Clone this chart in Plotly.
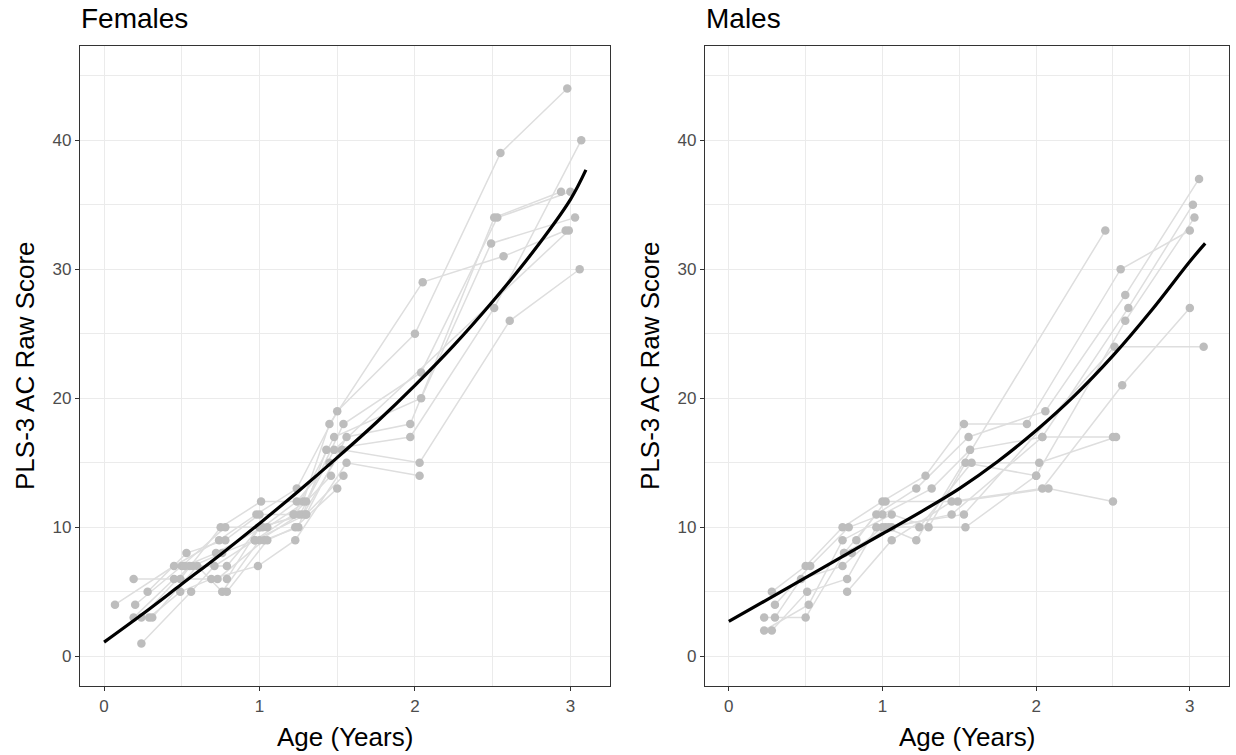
import plotly.graph_objects as go

# ---------------- data ----------------
# Females: one list per child (age in years, PLS-3 AC raw score)
female_ages = [
    [0.07, 0.45, 0.74, 0.98, 1.24, 1.50, 2.00, 2.55, 2.98],
    [0.19, 0.49, 0.75, 1.01, 1.28, 1.45, 2.05, 2.57, 2.97],
    [0.20, 0.50, 0.78, 1.05, 1.30, 1.54, 2.04, 2.53, 3.00],
    [0.28, 0.53, 0.78, 1.00, 1.22, 1.48, 2.04, 2.49, 3.03],
    [0.24, 0.56, 0.71, 0.97, 1.30, 1.56, 1.97, 2.51, 2.94],
    [0.19, 0.45, 0.73, 1.03, 1.25, 1.43, 1.97, 2.51, 3.07],
    [0.24, 0.55, 0.79, 1.00, 1.28, 1.53, 2.03, 2.61, 3.06],
    [0.29, 0.49, 0.69, 0.99, 1.23, 1.56, 2.03],
    [0.31, 0.60, 0.76, 1.00, 1.26, 1.48, 2.99],
    [0.52, 0.72, 1.02, 1.24, 1.45],
    [0.57, 0.76, 0.97, 1.22, 1.46],
    [0.79, 1.00, 1.30, 1.54],
    [0.79, 1.05, 1.23, 1.50],
]
female_scores = [
    [4, 7, 9, 11, 13, 19, 25, 39, 44],
    [6, 6, 10, 12, 12, 18, 29, 31, 33],
    [4, 7, 10, 10, 12, 18, 22, 34, 36],
    [5, 8, 9, 11, 11, 17, 20, 32, 34],
    [1, 5, 7, 9, 11, 17, 18, 34, 36],
    [3, 6, 6, 9, 10, 16, 17, 27, 40],
    [3, 7, 7, 10, 11, 16, 15, 26, 30],
    [3, 5, 6, 7, 9, 15, 14],
    [3, 7, 5, 9, 11, 16, 33],
    [7, 8, 10, 12, 15],
    [7, 8, 9, 11, 14],
    [6, 10, 11, 14],
    [5, 9, 10, 13],
]

# Males
male_ages = [
    [0.28, 0.50, 0.74, 1.00, 1.28, 1.53, 1.94, 2.55, 3.00],
    [0.23, 0.50, 0.75, 0.96, 1.22, 1.56, 2.06, 2.58, 3.06],
    [0.30, 0.53, 0.78, 1.00, 1.32, 1.57, 2.04, 2.60, 3.02],
    [0.23, 0.52, 0.74, 1.06, 1.30, 1.54, 2.00, 2.58, 3.03],
    [0.28, 0.51, 0.77, 0.96, 1.24, 1.58, 2.02, 2.52],
    [0.30, 0.47, 0.74, 1.02, 1.22, 2.45],
    [0.77, 1.06, 1.45, 2.04, 2.56, 3.00],
    [0.83, 1.02, 1.49, 2.08, 2.50],
    [0.75, 1.06, 1.45, 2.04, 2.50],
    [0.80, 1.00, 1.53, 2.51, 3.09],
    [1.04, 1.54, 2.00],
]
male_scores = [
    [5, 7, 10, 12, 14, 18, 18, 30, 33],
    [3, 3, 8, 11, 13, 17, 19, 28, 37],
    [4, 7, 10, 11, 13, 16, 17, 27, 35],
    [2, 4, 9, 11, 10, 15, 14, 26, 34],
    [2, 5, 6, 10, 10, 15, 15, 17],
    [3, 6, 7, 10, 9, 33],
    [5, 9, 12, 13, 21, 27],
    [9, 12, 12, 13, 12],
    [8, 10, 11, 17, 17],
    [8, 10, 11, 24, 24],
    [10, 10, 14],
]

# Fitted growth curves
curve_ages = [0, 0.25, 0.5, 0.75, 1.0, 1.25, 1.5, 1.75, 2.0, 2.25, 2.5, 2.75, 3.0, 3.1]
female_curve = [1.1, 3.3, 5.6, 7.9, 10.3, 12.8, 15.4, 18.1, 21.0, 24.1, 27.5, 31.2, 35.4, 37.7]
male_curve = [2.7, 4.4, 6.1, 7.8, 9.5, 11.2, 13.0, 15.1, 17.5, 20.2, 23.3, 26.8, 30.6, 32.0]

panel_titles = ["Females", "Males"]
x_ticks = [0, 1, 2, 3]
y_ticks = [0, 10, 20, 30, 40]

# ---------------- figure ----------------
W, H = 1236, 755
FONT = "Liberation Sans, Arial, sans-serif"
LINE_COL = "#dedede"
PT_COL = "#bdbdbd"
X_RANGE = [-0.155, 3.255]
Y_RANGE = [-2.3, 47.3]

fig = go.Figure()

panels = [
    (female_ages, female_scores, female_curve, "x", "y"),
    (male_ages, male_scores, male_curve, "x2", "y2"),
]

for ages, scores, curve, xa, ya in panels:
    lx, ly = [], []
    for a, s in zip(ages, scores):
        lx += list(a) + [None]
        ly += list(s) + [None]
    fig.add_trace(go.Scatter(x=lx, y=ly, mode="lines",
                             line=dict(color=LINE_COL, width=1.5),
                             xaxis=xa, yaxis=ya, showlegend=False,
                             hoverinfo="skip"))
    px = [v for a in ages for v in a]
    py = [v for s in scores for v in s]
    fig.add_trace(go.Scatter(x=px, y=py, mode="markers",
                             marker=dict(color=PT_COL, size=8.5, line=dict(width=0)),
                             xaxis=xa, yaxis=ya, showlegend=False))
    fig.add_trace(go.Scatter(x=curve_ages, y=curve, mode="lines",
                             line=dict(color="black", width=3.2, shape="spline"),
                             xaxis=xa, yaxis=ya, showlegend=False))

def px_to_dom(x0, x1):
    return [x0 / W, x1 / W]

def py_to_dom(top, bottom):
    return [1 - bottom / H, 1 - top / H]

xdoms = [px_to_dom(80, 610), px_to_dom(705, 1229)]
ydom = py_to_dom(46, 686)

axis_common = dict(
    showline=True, mirror=True, linecolor="#333333", linewidth=1.2,
    ticks="outside", ticklen=4, tickwidth=1.2, tickcolor="#333333",
    showgrid=True, gridcolor="#ebebeb", gridwidth=1.2,
    zeroline=False,
    tickfont=dict(family=FONT, size=17, color="#4d4d4d"),
)

layout = dict(
    width=W, height=H,
    margin=dict(l=0, r=0, t=0, b=0),
    paper_bgcolor="white", plot_bgcolor="white",
    showlegend=False,
)
for i, (xn, yn) in enumerate([("xaxis", "yaxis"), ("xaxis2", "yaxis2")]):
    layout[xn] = dict(axis_common, domain=xdoms[i], range=X_RANGE,
                      tickvals=x_ticks, ticktext=[str(t) for t in x_ticks],
                      minor=dict(tickvals=[0.5, 1.5, 2.5], showgrid=True,
                                 gridcolor="#ebebeb", gridwidth=0.7, ticks=""),
                      anchor="y" if i == 0 else "y2")
    layout[yn] = dict(axis_common, domain=ydom, range=Y_RANGE,
                      tickvals=y_ticks, ticktext=[str(t) for t in y_ticks],
                      minor=dict(tickvals=[5, 15, 25, 35, 45], showgrid=True,
                                 gridcolor="#ebebeb", gridwidth=0.7, ticks=""),
                      anchor="x" if i == 0 else "x2")

fig.update_layout(**layout)

annotations = []
for i, t in enumerate(panel_titles):
    x0 = xdoms[i][0]
    annotations.append(dict(text=t, x=x0 - 1 / W, y=1 - 18 / H, xref="paper", yref="paper",
                            xanchor="left", yanchor="middle", showarrow=False,
                            font=dict(family=FONT, size=28, color="black")))
    annotations.append(dict(text="Age (Years)", x=(xdoms[i][0] + xdoms[i][1]) / 2,
                            y=1 - 737 / H, xref="paper", yref="paper",
                            xanchor="center", yanchor="middle", showarrow=False,
                            font=dict(family=FONT, size=26, color="black")))
    yx = 25 if i == 0 else 650
    annotations.append(dict(text="PLS-3 AC Raw Score", x=yx / W, y=(ydom[0] + ydom[1]) / 2,
                            xref="paper", yref="paper", textangle=-90,
                            xanchor="center", yanchor="middle", showarrow=False,
                            font=dict(family=FONT, size=26, color="black")))
fig.update_layout(annotations=annotations)

fig.write_html("out.html", config={"displayModeBar": False},
               post_script="document.body.style.margin='0';document.body.style.overflow='hidden';")
